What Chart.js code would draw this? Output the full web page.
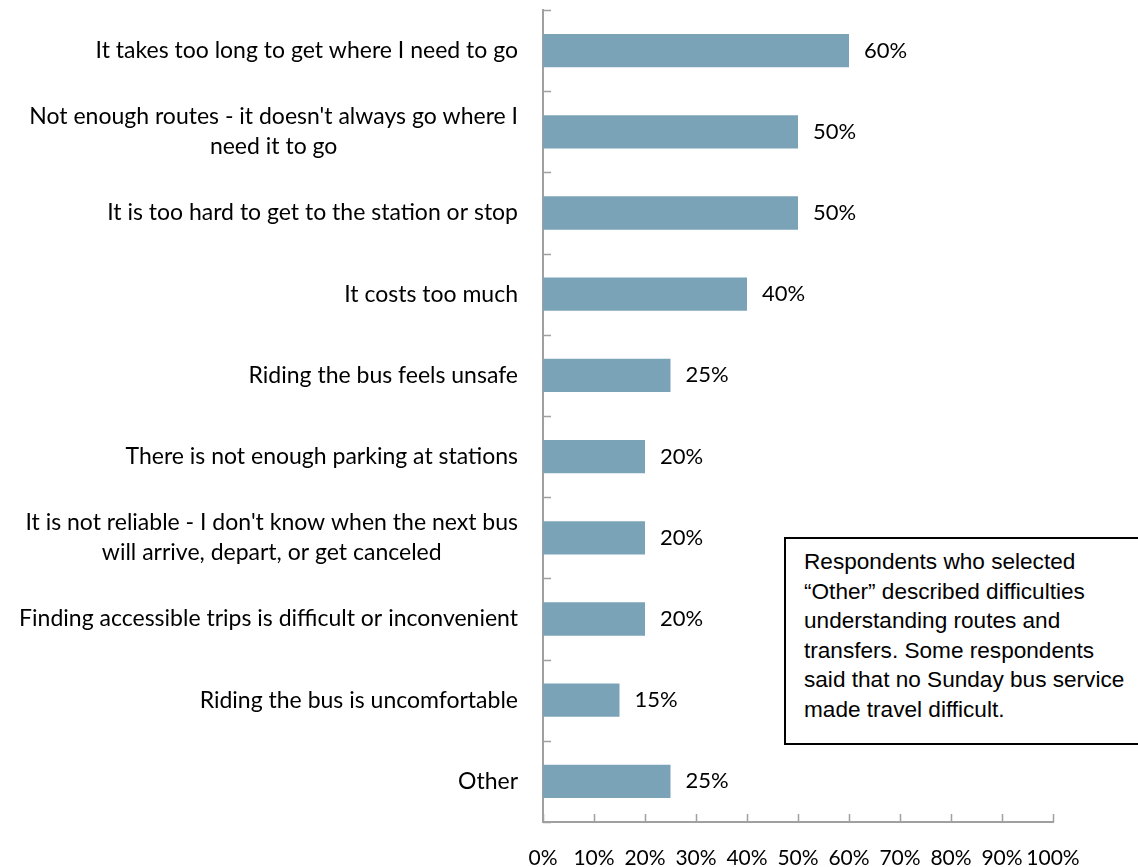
<!DOCTYPE html>
<html>
<head>
<meta charset="utf-8">
<script src="https://cdn.jsdelivr.net/npm/chart.js@4/dist/chart.umd.min.js"></script>
<style>
  html, body { margin: 0; padding: 0; background: #fff; overflow: hidden; }
  #wrap { position: relative; width: 1138px; height: 867px; overflow: hidden; }
  #note {
    position: absolute; left: 784px; top: 537px; width: 380px; height: 196px;
    border: 2px solid #000; background: #fff; box-sizing: content-box;
    padding: 8px 0 0 18px;
    font-family: "Liberation Sans", Arial, sans-serif; font-size: 22.6px; line-height: 29.6px; color: #000;
  }
</style>
</head>
<body>
<div id="wrap">
  <canvas id="barrierChart" width="1138" height="867"></canvas>
  <div id="note">Respondents who selected<br>“Other” described difficulties<br>understanding routes and<br>transfers. Some respondents<br>said that no Sunday bus service<br>made travel difficult.</div>
</div>
<script>
// Alasan responden sulit naik bus (persen)
var categories = [
    'It takes too long to get where I need to go',
    ['Not enough routes - it doesn\'t always go where I', 'need it to go'],
    'It is too hard to get to the station or stop',
    'It costs too much',
    'Riding the bus feels unsafe',
    'There is not enough parking at stations',
    ['It is not reliable - I don\'t know when the next bus', 'will arrive, depart, or get canceled'],
    'Finding accessible trips is difficult or inconvenient',
    'Riding the bus is uncomfortable',
    'Other'
];
var shares = [60, 50, 50, 40, 25, 20, 20, 20, 15, 25];
var xTickValues = [0, 10, 20, 30, 40, 50, 60, 70, 80, 90, 100];

var catFont = '23px Lato, "Noto Sans", sans-serif';
var valueFont = '22px Lato, "Noto Sans", sans-serif';
var axisGrey = '#a0a0a0';

// Tick ke dalam, label kategori (baris tengah) dan label nilai
var extras = {
    id: 'extras',
    afterDraw: function (chart) {
        var c = chart.ctx, x = chart.scales.x, y = chart.scales.y;
        c.save();
        c.strokeStyle = axisGrey;
        c.lineWidth = 1.5;
        c.beginPath();
        x.ticks.forEach(function (t, i) {
            var px = Math.round(x.getPixelForTick(i)) + 0.5;
            c.moveTo(px, y.bottom);
            c.lineTo(px, y.bottom - 8);
        });
        for (var i = 0; i <= categories.length; i++) {
            var py = Math.round(y.getPixelForValue(i - 0.5)) + 0.5;
            c.moveTo(x.left, py);
            c.lineTo(x.left + 8, py);
        }
        c.stroke();

        c.fillStyle = '#000';
        c.font = catFont;
        c.textBaseline = 'middle';
        c.textAlign = 'center';
        var right = x.left - 25;
        categories.forEach(function (lab, i) {
            var lines = Array.isArray(lab) ? lab : [lab];
            var w = Math.max.apply(null, lines.map(function (s) { return c.measureText(s).width; }));
            var cy = y.getPixelForValue(i);
            lines.forEach(function (s, k) {
                c.fillText(s, right - w / 2, cy + (k - (lines.length - 1) / 2) * 30);
            });
        });

        c.font = valueFont;
        c.textAlign = 'left';
        chart.getDatasetMeta(0).data.forEach(function (bar, i) {
            c.fillText(shares[i] + '%', bar.x + 15, bar.y);
        });
        c.restore();
    }
};

var ctx = document.getElementById('barrierChart').getContext('2d');
var myChart = new Chart(ctx, {
    type: 'bar',
    data: {
        labels: categories,
        datasets: [{
            data: shares,
            backgroundColor: '#7ba3b7',
            borderWidth: 0,
            barPercentage: 0.41,
            categoryPercentage: 1
        }]
    },
    options: {
        indexAxis: 'y',
        responsive: false,
        animation: false,
        layout: { padding: { top: 10, right: 85, left: 0, bottom: 0 } },
        plugins: {
            legend: { display: false },
            tooltip: { enabled: false }
        },
        scales: {
            x: {
                min: 0,
                max: 100,
                afterBuildTicks: function (s) {
                    s.ticks = xTickValues.map(function (v) { return { value: v }; });
                },
                afterFit: function (s) { s.height = 45; },
                grid: { display: false, drawTicks: false },
                border: { display: true, color: axisGrey, width: 2 },
                ticks: {
                    padding: 24,
                    color: '#000',
                    font: { family: 'Lato, "Noto Sans", sans-serif', size: 21 },
                    maxRotation: 0,
                    autoSkip: false,
                    callback: function (v) { return v + '%'; }
                }
            },
            y: {
                afterFit: function (s) { s.width = 543; },
                grid: { display: false, drawTicks: false },
                border: { display: true, color: axisGrey, width: 2 },
                ticks: { display: false }
            }
        }
    },
    plugins: [extras]
});
</script>
</body>
</html>
